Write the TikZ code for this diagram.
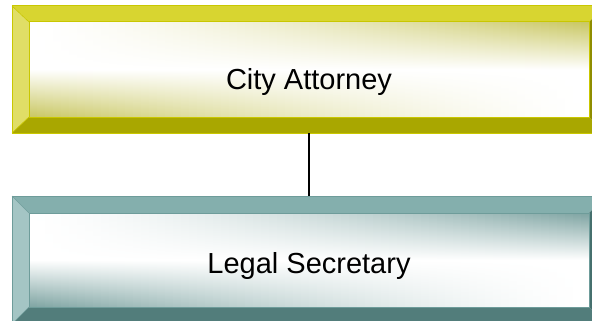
\documentclass[tikz,border=0pt]{standalone}
\usepackage{fontspec}
\setmainfont{Liberation Sans}
\definecolor{ytop}{HTML}{D8D530}
\definecolor{yleft}{HTML}{E0DE66}
\definecolor{ybot}{HTML}{A9A700}
\definecolor{yright}{HTML}{8F8D00}
\definecolor{yline}{HTML}{C9C700}
\definecolor{yface}{HTML}{C6C45A}
\definecolor{gtop}{HTML}{84AFAD}
\definecolor{gleft}{HTML}{A4C5C4}
\definecolor{gbot}{HTML}{527D7B}
\definecolor{gright}{HTML}{46706E}
\definecolor{gline}{HTML}{6E9C9A}
\definecolor{gface}{HTML}{779F9D}
\tikzset{
  frame/.style={inner sep=0pt, outer sep=0pt, draw=none},
  lbl/.style={font=\fontsize{29}{34}\selectfont, anchor=base, inner sep=0pt, text=black},
  link/.style={draw=black, line width=1.6pt}
}
\newcommand\bevelbox[6]{%
  \fill[#3] (#1.north west) -- (#1.north east) -- (#2.north east) -- (#2.north west) -- cycle;
  \fill[#4] (#1.north west) -- (#2.north west) -- (#2.south west) -- (#1.south west) -- cycle;
  \fill[#5] (#1.south west) -- (#2.south west) -- (#2.south east) -- (#1.south east) -- cycle;
  \fill[#6] (#1.north east) -- (#1.south east) -- (#2.south east) -- (#2.north east) -- cycle;
}
\newcommand\facefill[2]{%
  \begin{scope}
  \clip (#1.north west) rectangle (#1.south east);
  \foreach \i in {0,...,69}{%
    \pgfmathsetmacro\ft{(\i+0.5)/70}%
    \pgfmathsetmacro\ta{95*(\ft)^1.4}%
    \pgfmathsetmacro\ba{95*(1-\ft)^1.4}%
    \colorlet{ctopc}{#2!\ta!white}%
    \colorlet{cbotc}{#2!\ba!white}%
    \shade[top color=ctopc, bottom color=cbotc, middle color=white]
      ([xshift=\i*8pt]#1.north west) rectangle ([xshift=\i*8pt+8.6pt]#1.south west);
  }
  \end{scope}
}
\begin{document}
\begin{tikzpicture}[x=1pt,y=-1pt]
\useasboundingbox (0,0) rectangle (592,321);
\clip (0,0) rectangle (592,321);
\fill[white] (0,0) rectangle (592,321);
% top box
\node[frame, minimum width=594pt, minimum height=127pt] (top) at (309,69.5) {};
\node[frame, minimum width=560pt, minimum height=95pt] (topin) at (309,69.5) {};
\bevelbox{top}{topin}{ytop}{yleft}{ybot}{yright}
\facefill{topin}{yface}
\draw[yline, line width=1pt] (top.north west) rectangle (top.south east);
\draw[yline, line width=1pt] (topin.north west) rectangle (topin.south east);
\draw[yline, line width=0.6pt] (top.north west) -- (topin.north west)
  (top.south west) -- (topin.south west);
% bottom box
\node[frame, minimum width=594pt, minimum height=128pt] (bot) at (309,260) {};
\node[frame, minimum width=560pt, minimum height=94pt] (botin) at (309,260) {};
\bevelbox{bot}{botin}{gtop}{gleft}{gbot}{gright}
\facefill{botin}{gface}
\draw[gline, line width=1pt] (bot.north west) rectangle (bot.south east);
\draw[gline, line width=1pt] (botin.north west) rectangle (botin.south east);
\draw[gline, line width=0.6pt] (bot.north west) -- (botin.north west)
  (bot.south west) -- (botin.south west);
% labels
\node[lbl] (ca) at (309,90) {City Attorney};
\node[lbl] (ls) at (309,273) {Legal Secretary};
% connector
\draw[link] (ca |- top.south) -- (ca |- bot.north);
\end{tikzpicture}
\end{document}
